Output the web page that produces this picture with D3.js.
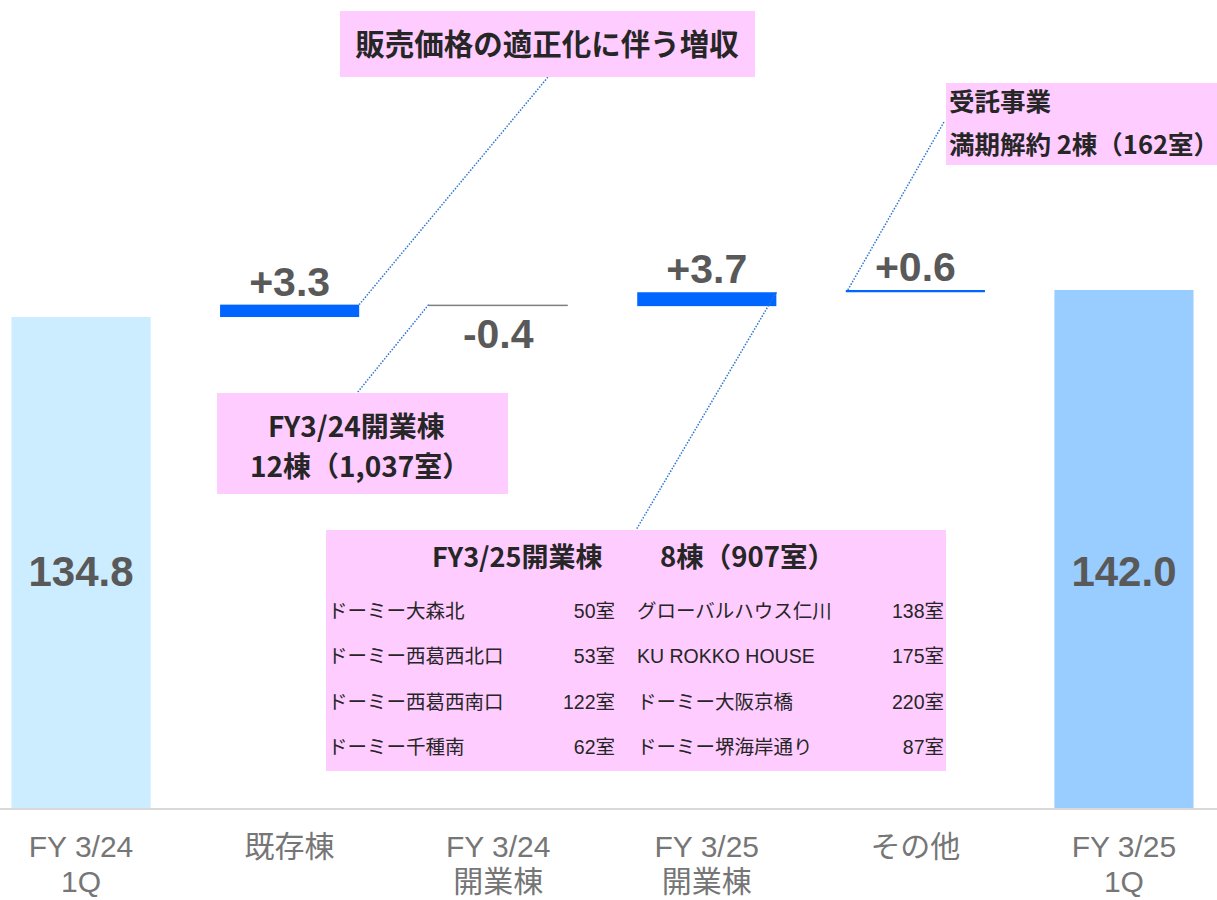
<!DOCTYPE html>
<html lang="ja">
<head>
<meta charset="UTF-8">
<title>売上高 増減要因</title>
<style>
  body { margin: 0; background: #fff; }
  svg { display: block; }
</style>
</head>
<body>
<script src="https://cdn.jsdelivr.net/npm/d3@7"></script>
<script>
// ---- data ----
const categories = ["FY3/24 1Q", "既存棟", "FY3/24 開業棟", "FY3/25 開業棟", "その他", "FY3/25 1Q"];
const categoryLines = [["FY 3/24", "1Q"], ["既存棟"], ["FY 3/24", "開業棟"], ["FY 3/25", "開業棟"], ["その他"], ["FY 3/25", "1Q"]];
const values = [134.8, 3.3, -0.4, 3.7, 0.6, 142.0];
const kinds = ["total", "delta", "delta", "delta", "delta", "total"];
const valueLabels = ["134.8", "+3.3", "-0.4", "+3.7", "+0.6", "142.0"];
const axisMin = 3.9;   // 元グラフの縦軸は 0 から始まっていない

const openings = [
  ["ドーミー大森北", "50室", "グローバルハウス仁川", "138室"],
  ["ドーミー西葛西北口", "53室", "KU ROKKO HOUSE", "175室"],
  ["ドーミー西葛西南口", "122室", "ドーミー大阪京橋", "220室"],
  ["ドーミー千種南", "62室", "ドーミー堺海岸通り", "87室"]
];

const width = 1217, height = 900;
const baseY = 808;

const svg = d3.select("body").append("svg")
  .attr("width", width)
  .attr("height", height);

// ---- waterfall steps ----
let running = 0;
const steps = values.map((v, i) => {
  let start, end;
  if (kinds[i] === "total") { start = axisMin; end = v; running = v; }
  else { start = running; end = running + v; running = end; }
  return { cat: categories[i], value: v, kind: kinds[i], start: start, end: end, label: valueLabels[i] };
});

const x = d3.scaleBand()
  .domain(categories)
  .range([-23.3, 1228.3])
  .paddingInner(0.333)
  .paddingOuter(0.1667);

const y = d3.scaleLinear()
  .domain([axisMin, 142.0])
  .range([baseY, 290]);

function barColor(d, i) {
  if (d.kind === "total") return i === 0 ? "#CCECFF" : "#99CCFF";
  return d.value >= 0 ? "#0066FF" : "#7F7F7F";
}

svg.selectAll("rect.bar")
  .data(steps)
  .enter()
  .append("rect")
  .attr("class", "bar")
  .attr("x", d => x(d.cat))
  .attr("width", x.bandwidth())
  .attr("y", d => y(Math.max(d.start, d.end)))
  .attr("height", d => Math.max(1.2, Math.abs(y(d.start) - y(d.end))))
  .style("fill", barColor);

// baseline
svg.append("line")
  .attr("x1", 0).attr("x2", width)
  .attr("y1", baseY + 1).attr("y2", baseY + 1)
  .style("stroke", "#D9D9D9")
  .style("stroke-width", 2);

// value labels
svg.selectAll("text.val")
  .data(steps)
  .enter()
  .append("text")
  .attr("class", "val")
  .attr("x", d => x(d.cat) + x.bandwidth() / 2)
  .attr("y", d => {
    if (d.kind === "total") return 586;
    if (d.value >= 0) return y(d.end) - 9;
    return y(d.end) + 42;
  })
  .attr("text-anchor", "middle")
  .style("font-family", "'Liberation Sans', Arial, sans-serif")
  .style("font-weight", "bold")
  .style("font-size", d => d.kind === "total" ? "42px" : "41px")
  .style("fill", "#595959")
  .text(d => d.label);

// category labels
const catG = svg.selectAll("g.cat")
  .data(categoryLines)
  .enter()
  .append("text")
  .attr("class", "cat")
  .attr("text-anchor", "middle")
  .attr("x", (d, i) => x(categories[i]) + x.bandwidth() / 2)
  .attr("y", 857)
  .style("font-family", "'Liberation Sans', Arial, 'Noto Sans CJK JP', sans-serif")
  .style("font-size", "30px")
  .style("fill", "#767676");

catG.selectAll("tspan")
  .data((d, i) => d.map(t => ({ t: t, cx: x(categories[i]) + x.bandwidth() / 2 })))
  .enter()
  .append("tspan")
  .attr("x", d => d.cx)
  .attr("dy", (d, j) => j === 0 ? 0 : 35)
  .text(d => d.t);

// ---- annotations ----
const pink = "#FFCCFF";
const jp = "'Noto Sans CJK JP', sans-serif";
const mixed = "'Liberation Sans', Arial, 'Noto Sans CJK JP', sans-serif";

function leader(x1, y1, x2, y2) {
  svg.append("line")
    .attr("x1", x1).attr("y1", y1)
    .attr("x2", x2).attr("y2", y2)
    .style("stroke", "#2E75D0")
    .style("stroke-width", 1.5)
    .style("stroke-dasharray", "1.5,1.5");
}

function box(bx, by, bw, bh) {
  svg.append("rect")
    .attr("x", bx).attr("y", by)
    .attr("width", bw).attr("height", bh)
    .style("fill", pink);
}

function label(tx, ty, txt, size, weight, anchor, family) {
  svg.append("text")
    .attr("x", tx).attr("y", ty)
    .attr("text-anchor", anchor || "start")
    .style("font-family", family || jp)
    .style("font-size", size + "px")
    .style("font-weight", weight)
    .style("fill", "#262626")
    .text(txt);
}

const s1 = steps[1], s2 = steps[2], s3 = steps[3], s4 = steps[4];

// 販売価格の適正化に伴う増収
leader(x(s1.cat) + x.bandwidth(), y(s1.end), 548, 77);
box(340, 11, 415, 66);
label(547, 55, "販売価格の適正化に伴う増収", 29.5, "bold", "middle");

// FY3/24開業棟
leader(x(s2.cat), y(s2.start), 357, 393);
box(217, 393, 291, 101);
label(268, 437, "FY3/24開業棟", 28, "bold");
label(250, 477, "12棟（1,037室）", 28, "bold");

// FY3/25開業棟
leader(x(s3.cat) + x.bandwidth(), y(s3.end), 636, 530);
box(326, 530, 620, 241);
label(432, 567, "FY3/25開業棟", 27, "bold");
label(660, 567, "8棟（907室）", 27.5, "bold");

const rowY = d3.scaleBand().domain(d3.range(openings.length)).range([588, 770]);
openings.forEach((r, i) => {
  const ty = rowY(i) + rowY.bandwidth() / 2 + 7;
  label(328, ty, r[0], 19.5, "normal");
  label(615, ty, r[1], 19.5, "normal", "end", mixed);
  label(637, ty, r[2], 19.5, "normal", "start", mixed);
  label(944, ty, r[3], 19.5, "normal", "end", mixed);
});

// 受託事業
leader(x(s4.cat) + 2, y(s4.end), 944, 122);
box(946, 83, 271, 82);
label(949, 111, "受託事業", 25.5, "bold");
label(949, 154, "満期解約 2棟（162室）", 25.5, "bold");
</script>
</body>
</html>
